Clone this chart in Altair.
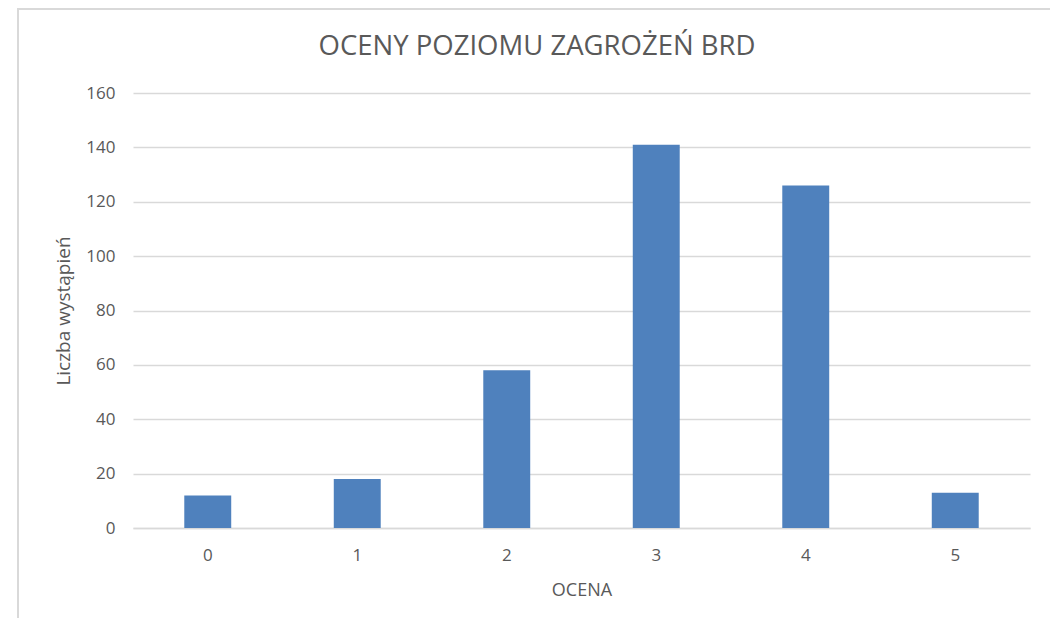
import altair as alt
import pandas as pd

categories = ["0", "1", "2", "3", "4", "5"]
values = [12, 18, 58, 141, 126, 13]
title_text = ["OCENY POZIOMU ZAGROŻEŃ BRD"]

df = pd.DataFrame({"ocena": categories, "liczba": values})
tdf = pd.DataFrame({"t": title_text})

FONT = "Open Sans"
TXT = "#595959"
GRID = "#D9D9D9"

bars = alt.Chart(df).mark_bar(color="#4F81BD").encode(
    x=alt.X("ocena:N", sort=categories,
            scale=alt.Scale(paddingInner=0.686, paddingOuter=0.343),
            axis=alt.Axis(title="OCENA", labelAngle=0, ticks=False, domain=True,
                          domainColor=GRID, domainWidth=1.5, labelPadding=19,
                          labelFontSize=17, labelColor=TXT, labelFont=FONT,
                          titleFontSize=18, titleColor=TXT, titleFont=FONT,
                          titleFontWeight="normal", titlePadding=18)),
    y=alt.Y("liczba:Q", scale=alt.Scale(domain=[0, 160]),
            axis=alt.Axis(title="Liczba wystąpień", values=[0, 20, 40, 60, 80, 100, 120, 140, 160],
                          ticks=False, domain=False, grid=True, gridColor=GRID, gridWidth=1.5,
                          labelPadding=18, labelFontSize=17, labelColor=TXT, labelFont=FONT,
                          titleFontSize=19, titleColor=TXT, titleFont=FONT,
                          titleFontWeight="normal", titlePadding=12)),
)

border = alt.Chart(df).mark_rect(fill=None, stroke=GRID, strokeWidth=2).encode(
    x=alt.value(-115), x2=alt.value(924), y=alt.value(-84), y2=alt.value(540)
)

title = alt.Chart(tdf).mark_text(font=FONT, fontSize=27.5, color=TXT, align="center",
                                 baseline="alphabetic").encode(
    text="t:N", x=alt.value(404), y=alt.value(-38)
)

chart = alt.layer(border, bars, title).properties(
    width=897, height=435,
    padding={"left": 125, "top": 85, "right": 20, "bottom": 90},
    autosize=alt.AutoSizeParams(type="none"),
).configure_view(stroke=None)

chart.save("out.html", embed_options={"renderer": "svg", "actions": False})
